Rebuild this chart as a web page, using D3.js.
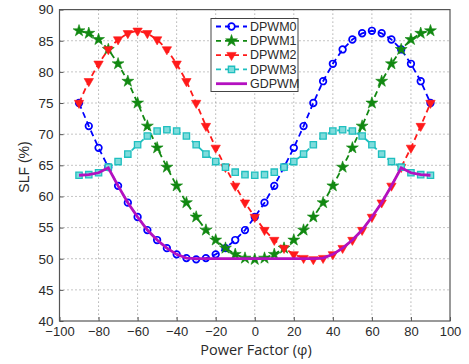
<!DOCTYPE html>
<html><head><meta charset="utf-8">
<script src="https://cdn.jsdelivr.net/npm/d3@7"></script>
<style>body{margin:0;background:#fff}svg{display:block}</style>
</head><body>
<svg id="c" width="469" height="364"></svg>
<script>
const phi = [-90,-85,-80,-75,-70,-65,-60,-55,-50,-45,-40,-35,-30,-25,-20,-15,-10,-5,0,5,10,15,20,25,30,35,40,45,50,55,60,65,70,75,80,85,90];
const dpwm0 = [75.0,71.3,67.8,64.7,61.7,59.0,56.7,54.6,53.0,51.7,50.7,50.1,49.9,50.1,50.7,51.7,53.0,54.6,56.7,59.0,61.7,64.7,67.8,71.3,75.0,78.5,81.3,83.6,85.2,86.2,86.6,86.2,85.2,83.6,81.3,78.5,75.0];
const dpwm1 = [86.6,86.2,85.2,83.6,81.3,78.5,75.0,71.3,67.8,64.7,61.7,59.0,56.7,54.6,53.0,51.7,50.7,50.1,49.9,50.1,50.7,51.7,53.0,54.6,56.7,59.0,61.7,64.7,67.8,71.3,75.0,78.5,81.3,83.6,85.2,86.2,86.6];
const dpwm2 = [75.0,78.5,81.3,83.6,85.2,86.2,86.6,86.2,85.2,83.6,81.3,78.5,75.0,71.3,67.8,64.7,61.7,59.0,56.7,54.6,53.0,51.7,50.7,50.1,49.9,50.1,50.7,51.7,53.0,54.6,56.7,59.0,61.7,64.7,67.8,71.3,75.0];
const dpwm3 = [63.4,63.5,63.8,64.7,65.6,66.8,68.3,69.7,70.5,70.7,70.5,69.7,68.3,66.8,65.6,64.7,63.9,63.5,63.4,63.5,63.9,64.7,65.6,66.8,68.3,69.7,70.5,70.7,70.5,69.7,68.3,66.8,65.6,64.7,63.8,63.5,63.4];
const gdpwm = [63.4,63.5,63.8,64.6,61.7,59.0,56.7,54.6,53.0,51.7,50.7,50.1,50.0,50.0,50.0,50.0,50.0,50.0,50.0,50.0,50.0,50.0,50.0,50.0,50.0,50.1,50.7,51.7,53.0,54.6,56.7,59.0,61.7,64.6,63.8,63.5,63.4];
const seriesNames = ["DPWM0","DPWM1","DPWM2","DPWM3","GDPWM"];
const xTicks = [-100,-80,-60,-40,-20,0,20,40,60,80,100];
const yTicks = [40,45,50,55,60,65,70,75,80,85,90];

const series = [
  {name: seriesNames[0], vals: dpwm0, color:"#0000ff", marker:"circle", dash:"6,4"},
  {name: seriesNames[1], vals: dpwm1, color:"#118811", marker:"star", dash:"6,4"},
  {name: seriesNames[2], vals: dpwm2, color:"#ff1a1a", marker:"tri", dash:"6,4"},
  {name: seriesNames[3], vals: dpwm3, color:"#1fbfbf", marker:"square", dash:"6,4"},
  {name: seriesNames[4], vals: gdpwm, color:"#b410c0", marker:null, dash:null}
];

const svg = d3.select("#c");
const L = 59.5, R = 450, T = 9.6, B = 321;
const x = d3.scaleLinear().domain([-100,100]).range([L,R]);
const y = d3.scaleLinear().domain([40,90]).range([B,T]);
const font = "'Liberation Sans', Arial, sans-serif";
const txt = "#2a2a2a";

// grid
const g = svg.append("g");
g.selectAll(".gx").data(xTicks.slice(1,-1)).enter().append("line")
  .attr("x1",d=>x(d)).attr("x2",d=>x(d)).attr("y1",T).attr("y2",B)
  .attr("stroke","#8a8a8a").attr("stroke-width",1).attr("stroke-dasharray","1,3");
g.selectAll(".gy").data(yTicks.slice(1,-1)).enter().append("line")
  .attr("y1",d=>y(d)).attr("y2",d=>y(d)).attr("x1",L).attr("x2",R)
  .attr("stroke","#8a8a8a").attr("stroke-width",1).attr("stroke-dasharray","1,3");

// axes via d3
const xAxis = d3.axisBottom(x).tickValues(xTicks).tickSizeInner(-4).tickSizeOuter(0).tickPadding(6)
  .tickFormat(d=> d<0 ? "\u2212"+Math.abs(d) : d);
const yAxis = d3.axisLeft(y).tickValues(yTicks).tickSizeInner(-4).tickSizeOuter(0).tickPadding(6);
const xa = svg.append("g").attr("transform",`translate(0,${B})`).call(xAxis);
const ya = svg.append("g").attr("transform",`translate(${L},0)`).call(yAxis);
[xa,ya].forEach(a=>{
  a.select(".domain").remove();
  a.selectAll(".tick line").attr("stroke","#555");
  a.selectAll(".tick text").attr("font-family",font).attr("fill",txt);
});
xa.selectAll(".tick text").attr("font-size",13);
ya.selectAll(".tick text").attr("font-size",13.5);
// frame
svg.append("rect").attr("x",L).attr("y",T).attr("width",R-L).attr("height",B-T)
  .attr("fill","none").attr("stroke","#555").attr("stroke-width",1.2);

// series
function drawMarker(sel, s, px, py){
  if(s.marker==="circle"){
    sel.append("circle").attr("cx",px).attr("cy",py).attr("r",3.3)
      .attr("fill","none").attr("stroke",s.color).attr("stroke-width",1.7);
  } else if(s.marker==="star"){
    sel.append("path").attr("d",d3.symbol().type(d3.symbolStar).size(44)())
      .attr("transform",`translate(${px},${py})`).attr("fill",s.color).attr("stroke",s.color).attr("stroke-width",0.6);
  } else if(s.marker==="tri"){
    sel.append("path").attr("d",d3.symbol().type(d3.symbolTriangle).size(38)())
      .attr("transform",`translate(${px},${py}) rotate(180)`).attr("fill",s.color).attr("stroke",s.color).attr("stroke-width",0.6);
  } else if(s.marker==="square"){
    sel.append("path").attr("d",d3.symbol().type(d3.symbolSquare).size(40)())
      .attr("transform",`translate(${px},${py})`).attr("fill","#7fdcdc").attr("stroke",s.color).attr("stroke-width",1.3);
  }
}
const line = d3.line().x((d,i)=>x(phi[i])).y(d=>y(d));
series.forEach(s=>{
  const sg = svg.append("g");
  sg.append("path").attr("d",line(s.vals)).attr("fill","none").attr("stroke",s.color)
    .attr("stroke-width", s.marker? 1.8 : 2.8)
    .attr("stroke-dasharray", s.dash);
  if(s.marker){
    s.vals.forEach((v,i)=>drawMarker(sg, s, x(phi[i]), y(v)));
  }
});

// legend
const lg = svg.append("g");
lg.append("rect").attr("x",211).attr("y",18.5).attr("width",87).attr("height",73)
  .attr("fill","#fff").attr("stroke","#444").attr("stroke-width",1);
series.forEach((s,i)=>{
  const yy = 26.5 + i*14.3;
  lg.append("line").attr("x1",216).attr("x2",247).attr("y1",yy).attr("y2",yy)
    .attr("stroke",s.color).attr("stroke-width", s.marker?1.8:2.8).attr("stroke-dasharray",s.dash?"5,4":null);
  if(s.marker) drawMarker(lg, s, 231.5, yy);
  lg.append("text").attr("x",250).attr("y",yy+4.3).text(s.name)
    .attr("font-family",font).attr("font-size",12.5).attr("fill",txt);
});

// titles
svg.append("text").attr("x",256).attr("y",355).attr("text-anchor","middle")
  .attr("font-family","'Open Sans', sans-serif").attr("font-size",14.5).attr("fill",txt).text("Power Factor (\u03c6)");
svg.append("text").attr("transform","translate(29,167) rotate(-90)").attr("text-anchor","middle")
  .attr("font-family",font).attr("font-size",14).attr("fill",txt).text("SLF (%)");
</script>
</body></html>
